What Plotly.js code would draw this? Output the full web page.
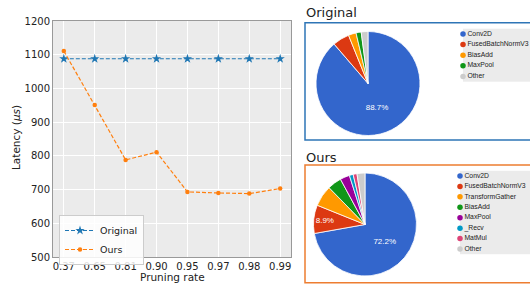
<!DOCTYPE html>
<html>
<head>
<meta charset="utf-8">
<script src="https://cdn.plot.ly/plotly-3.0.1.min.js"></script>
<style>html,body{margin:0;padding:0;background:#fff}#chart{width:530px;height:286px}</style>
</head>
<body>
<div id="chart"></div>
<script>
// ---- data ----
var pruningRates = ['0.37', '0.65', '0.81', '0.90', '0.95', '0.97', '0.98', '0.99'];
var latencyOriginal = [1088, 1088, 1088, 1088, 1088, 1088, 1088, 1088];
var latencyOurs = [1111, 951, 788, 811, 693, 690, 688, 703];

var origLabels = ['Conv2D', 'FusedBatchNormV3', 'BiasAdd', 'MaxPool', 'Other'];
var origValues = [88.7, 5.2, 2.4, 1.6, 2.1];

var oursLabels = ['Conv2D', 'FusedBatchNormV3', 'TransformGather', 'BiasAdd', 'MaxPool', '_Recv', 'MatMul', 'Other'];
var oursValues = [72.2, 8.9, 6.6, 4.4, 3.0, 1.2, 1.2, 2.5];

// ---- styles ----
var opColors = {
  'Conv2D': '#3366cc', 'FusedBatchNormV3': '#dc3912', 'TransformGather': '#ff9900',
  'BiasAdd': '#109618', 'MaxPool': '#990099', '_Recv': '#0099c6', 'MatMul': '#dd4477', 'Other': '#cccccc'
};
var origColors = ['#3366cc', '#dc3912', '#ff9900', '#109618', '#cccccc'];
var W = 530, H = 286;
function px(x) { return x / W; }
function py(y) { return 1 - y / H; }
var mpl = 'DejaVu Sans, sans-serif';
var gfont = 'Liberation Sans, Arial, sans-serif';

var traces = [];
traces.push({
  x: pruningRates, y: latencyOriginal, name: 'Original', type: 'scatter', mode: 'lines+markers',
  line: {color: '#1f77b4', dash: '4px,2px', width: 1.2},
  marker: {symbol: 'star', size: 7, color: '#1f77b4'},
  xaxis: 'x', yaxis: 'y', legend: 'legend', hoverinfo: 'skip'
});
traces.push({
  x: pruningRates, y: latencyOurs, name: 'Ours', type: 'scatter', mode: 'lines+markers',
  line: {color: '#ff7f0e', dash: '4px,2px', width: 1.2},
  marker: {symbol: 'circle', size: 4.5, color: '#ff7f0e'},
  xaxis: 'x', yaxis: 'y', legend: 'legend', hoverinfo: 'skip'
});

function pieTexts(labels, show) {
  return labels.map(function (l, i) { return i < show ? '%{percent:.1%}' : ''; });
}
traces.push({
  type: 'pie', labels: origLabels, values: origValues, sort: false, direction: 'clockwise', rotation: 0,
  marker: {colors: origColors, line: {color: '#ffffff', width: 0.8}},
  texttemplate: pieTexts(origLabels, 1), textposition: 'inside', insidetextorientation: 'horizontal',
  textfont: {family: gfont, size: 8, color: '#ffffff'},
  domain: {x: [px(316), px(420)], y: [py(136), py(31)]},
  showlegend: false, hoverinfo: 'skip'
});
traces.push({
  type: 'pie', labels: oursLabels, values: oursValues, sort: false, direction: 'clockwise', rotation: 0,
  marker: {colors: oursLabels.map(function (l) { return opColors[l]; }), line: {color: '#ffffff', width: 0.8}},
  texttemplate: pieTexts(oursLabels, 2), textposition: 'inside', insidetextorientation: 'horizontal',
  textfont: {family: gfont, size: 8, color: '#ffffff'},
  domain: {x: [px(313), px(417)], y: [py(276), py(173)]},
  showlegend: false, hoverinfo: 'skip'
});
// pie legends drawn as labelled circle markers on hidden axes
traces.push({
  type: 'scatter', mode: 'markers+text', x: origLabels.map(function () { return 0; }),
  y: origLabels.map(function (l, i) { return i; }), text: origLabels, textposition: 'middle right',
  marker: {size: 5.5, color: origColors}, textfont: {family: gfont, size: 6.8, color: '#222'},
  xaxis: 'x2', yaxis: 'y2', showlegend: false, cliponaxis: false, hoverinfo: 'skip'
});
traces.push({
  type: 'scatter', mode: 'markers+text', x: oursLabels.map(function () { return 0; }),
  y: oursLabels.map(function (l, i) { return i; }), text: oursLabels, textposition: 'middle right',
  marker: {size: 5.5, color: oursLabels.map(function (l) { return opColors[l]; })},
  textfont: {family: gfont, size: 6.8, color: '#222'},
  xaxis: 'x3', yaxis: 'y3', showlegend: false, cliponaxis: false, hoverinfo: 'skip'
});

var hidden = {visible: false, fixedrange: true};
var layout = {
  width: W, height: H, margin: {l: 0, r: 0, t: 0, b: 0},
  paper_bgcolor: '#ffffff', plot_bgcolor: '#ebebeb',
  font: {family: mpl, size: 10, color: '#222'},
  xaxis: {
    domain: [px(53), px(291)], type: 'category', range: [-0.35, 7.35],
    showgrid: true, gridcolor: '#ffffff', gridwidth: 1, zeroline: false,
    showline: true, linecolor: '#999999', linewidth: 1, mirror: true,
    ticks: '', tickfont: {size: 10, color: '#222'}
  },
  yaxis: {
    domain: [py(257), py(21)], range: [500, 1200], dtick: 100,
    showgrid: true, gridcolor: '#ffffff', gridwidth: 1, zeroline: false,
    showline: true, linecolor: '#999999', linewidth: 1, mirror: true,
    ticks: '', tickfont: {size: 10, color: '#222'}
  },
  xaxis2: Object.assign({domain: [px(463), 1], range: [0, 1], anchor: 'y2'}, hidden),
  yaxis2: Object.assign({domain: [py(81.7), py(28.7)], range: [origLabels.length - 0.5, -0.5], anchor: 'x2'}, hidden),
  xaxis3: Object.assign({domain: [px(460), 1], range: [0, 1], anchor: 'y3'}, hidden),
  yaxis3: Object.assign({domain: [py(254.2), py(170.8)], range: [oursLabels.length - 0.5, -0.5], anchor: 'x3'}, hidden),
  legend: {
    x: px(59), y: py(215), xanchor: 'left', yanchor: 'top',
    bgcolor: 'rgba(255,255,255,0.85)', bordercolor: '#cccccc', borderwidth: 1,
    font: {family: mpl, size: 9.5, color: '#222'}, itemwidth: 30
  },
  shapes: [
    {type: 'rect', xref: 'paper', yref: 'paper', x0: px(305), x1: px(540), y0: py(140), y1: py(22.7),
     line: {color: '#2e75b6', width: 1.5}},
    {type: 'rect', xref: 'paper', yref: 'paper', x0: px(305), x1: px(540), y0: py(282.7), y1: py(165),
     line: {color: '#ed7d31', width: 1.5}}
  ],
  annotations: [
    {text: 'Original', xref: 'paper', yref: 'paper', x: px(304), y: py(12), xanchor: 'left', yanchor: 'middle',
     showarrow: false, font: {family: mpl, size: 13, color: '#222'}},
    {text: 'Ours', xref: 'paper', yref: 'paper', x: px(304), y: py(157), xanchor: 'left', yanchor: 'middle',
     showarrow: false, font: {family: mpl, size: 13, color: '#222'}},
    {text: 'Latency (<i>μs</i>)', xref: 'paper', yref: 'paper', x: px(16), y: py(138), xanchor: 'center', yanchor: 'middle',
     textangle: -90, showarrow: false, font: {family: mpl, size: 10.5, color: '#222'}},
    {text: 'Pruning rate', xref: 'paper', yref: 'paper', x: px(172), y: py(277), xanchor: 'center', yanchor: 'middle',
     showarrow: false, font: {family: mpl, size: 10.5, color: '#222'}}
  ],
  showlegend: true
};
Plotly.newPlot('chart', traces, layout, {displayModeBar: false, staticPlot: true});
</script>
</body>
</html>
